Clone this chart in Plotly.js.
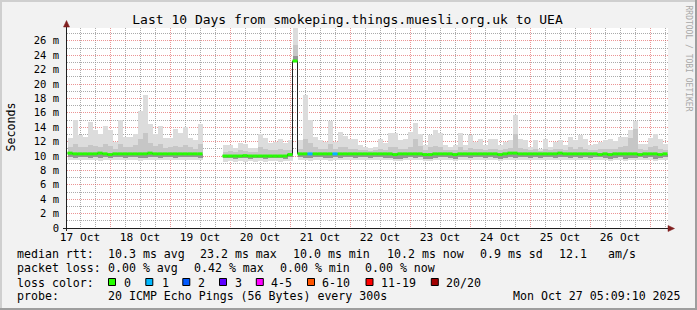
<!DOCTYPE html>
<html><head><meta charset="utf-8">
<script src="https://cdn.plot.ly/plotly-3.0.1.min.js"></script>
<style>html,body{margin:0;padding:0;background:#f2f2f2;overflow:hidden}</style>
</head><body><div id="chart" style="width:697px;height:310px"></div>
<script>
// ---------- data (2-hour bins starting 17 Oct 07:00) ----------
const binStartUTC = Date.UTC(2025, 9, 17, 7, 0, 0);
const binHours = 2;

const smokeMax = [
 12.5,15.0,12.9,12.6,14.7,13.6,13.0,14.1,13.6,12.0,15.0,12.7,12.7,13.1,16.2,18.5,14.5,13.1,14.1,12.5,12.5,13.7,13.2,14.0,
 12.5,12.2,14.5,null,null,null,null,11.5,11.5,11.1,11.8,11.7,11.1,11.1,13.1,12.5,11.8,12.0,12.4,11.8,12.2,29.0,12.2,18.5,
 15.0,12.7,12.2,12.0,14.8,12.0,13.3,12.8,12.4,12.3,11.5,11.3,11.1,11.3,12.3,11.8,13.2,13.2,12.2,12.3,13.3,14.6,13.0,11.5,
 12.9,13.6,13.2,11.5,11.3,11.5,13.2,11.5,12.9,12.0,12.3,11.5,12.3,12.3,11.5,12.0,12.2,15.7,12.3,12.2,11.3,12.2,11.0,12.4,
 11.3,12.0,12.2,11.5,12.7,12.2,12.9,12.3,11.5,11.6,12.0,12.2,12.3,12.1,12.7,12.7,13.6,14.8,11.7,11.7,12.5,13.1,12.3,11.7
];
const smokeHi = [
 11.2,11.6,11.3,11.2,11.5,11.4,11.2,11.6,11.4,11.0,11.6,11.2,11.3,11.5,12.4,13.2,11.8,11.4,11.6,11.1,11.2,11.4,11.3,11.5,
 11.2,11.0,11.6,null,null,null,null,10.6,10.7,10.6,10.8,10.7,10.6,10.6,11.2,11.0,10.8,10.9,11.0,10.8,10.9,25.4,11.0,12.4,
 11.8,11.2,11.0,11.0,11.6,11.0,11.3,11.2,11.0,11.0,10.8,10.8,10.7,10.8,11.0,10.9,11.3,11.3,11.0,11.0,11.3,12.4,11.4,10.8,
 11.2,11.4,11.2,10.8,10.8,10.8,11.2,10.8,11.1,11.0,11.0,10.8,11.0,11.0,10.8,11.0,11.1,13.0,11.1,11.0,10.8,11.0,10.7,11.0,
 10.8,11.0,11.0,10.8,11.2,11.0,11.2,11.0,10.8,10.8,11.0,11.0,11.0,11.0,11.3,11.4,12.5,13.8,11.0,10.9,11.2,11.4,11.0,10.8
];
const smokeLo = [
 9.8,9.7,9.8,9.8,9.7,9.8,9.7,9.8,9.7,9.8,9.8,9.7,9.8,9.8,9.7,9.7,9.8,9.8,9.7,9.8,9.8,9.7,9.8,9.8,
 9.8,9.8,9.7,null,null,null,null,9.7,9.7,9.6,9.7,9.7,9.6,9.7,9.7,9.6,9.7,9.7,9.7,9.6,9.8,23.9,9.8,9.7,
 9.7,9.8,9.8,9.7,9.7,9.8,9.7,9.8,9.8,9.7,9.8,9.8,9.7,9.8,9.8,9.7,9.7,9.6,9.6,9.7,9.8,9.7,9.8,9.6,
 9.6,9.7,9.8,9.8,9.7,9.6,9.8,9.8,9.7,9.8,9.8,9.7,9.8,9.7,9.6,9.7,9.8,9.7,9.8,9.8,9.7,9.8,9.7,9.8,
 9.8,9.7,9.8,9.8,9.7,9.8,9.7,9.8,9.7,9.8,9.8,9.7,9.6,9.7,9.8,9.6,9.7,9.7,9.8,9.7,9.8,9.6,9.7,9.8
];
const smokeMin = [
 9.5,9.4,9.5,9.4,9.5,9.4,9.3,9.5,9.4,9.4,9.5,9.4,9.5,9.4,9.3,9.4,9.5,9.4,9.4,9.5,9.4,9.5,9.4,9.5,
 9.5,9.5,9.4,null,null,null,null,9.2,9.3,9.2,9.3,9.2,9.3,9.2,9.3,9.2,9.3,9.3,9.2,9.3,9.3,22.9,9.5,9.4,
 9.3,9.4,9.5,9.4,9.3,9.5,9.4,9.4,9.5,9.4,9.4,9.5,9.4,9.5,9.4,9.5,9.4,9.3,9.3,9.4,9.5,9.4,9.4,9.3,
 9.3,9.4,9.5,9.4,9.4,9.3,9.5,9.4,9.4,9.5,9.4,9.4,9.5,9.4,9.3,9.4,9.5,9.4,9.5,9.4,9.4,9.5,9.4,9.5,
 9.5,9.4,9.5,9.4,9.4,9.5,9.4,9.5,9.4,9.5,9.4,9.4,9.3,9.4,9.5,9.3,9.4,9.4,9.5,9.4,9.5,9.3,9.4,9.5
];
const medianRtt = [
 10.4,10.3,10.3,10.3,10.3,10.3,10.4,10.3,10.2,10.3,10.3,10.3,10.3,10.3,10.3,10.3,10.4,10.3,10.3,10.3,10.3,10.3,10.3,10.3,
 10.3,10.3,10.3,null,null,null,null,10.0,10.0,10.0,10.0,10.05,10.0,10.0,10.0,10.0,10.0,10.0,10.0,10.0,10.2,23.2,10.3,10.3,
 10.3,10.3,10.3,10.3,10.3,10.3,10.3,10.3,10.3,10.3,10.3,10.3,10.3,10.3,10.3,10.3,10.3,10.2,10.3,10.3,10.3,10.3,10.3,10.2,
 10.2,10.3,10.3,10.3,10.3,10.2,10.3,10.3,10.3,10.3,10.3,10.3,10.3,10.3,10.2,10.3,10.4,10.4,10.3,10.3,10.3,10.3,10.3,10.3,
 10.3,10.3,10.4,10.3,10.3,10.3,10.3,10.3,10.3,10.3,10.2,10.3,10.2,10.3,10.3,10.3,10.3,10.3,10.2,10.3,10.3,10.3,10.2,10.3
];
const lossCount = [
 0,0,0,0,0,0,0,0,0,0,0,0,0,0,0,0,0,0,0,0,0,0,0,0,
 0,0,0,0,0,0,0,0,0,0,0,0,0,0,0,0,0,0,0,0,0,0,0,0,
 1,0,0,0,0,1,0,0,0,0,0,0,0,0,0,0,0,0,0,0,0,0,0,0,
 0,0,0,0,0,0,0,0,0,0,0,0,0,0,0,0,0,0,0,0,0,0,0,0,
 0,0,0,0,0,0,0,0,0,0,0,0,0,0,0,0,0,0,0,0,0,0,0,0
];

const yTickVals = [0,2,4,6,8,10,12,14,16,18,20,22,24,26];
const yTickText = ['0','2 m','4 m','6 m','8 m','10 m','12 m','14 m','16 m','18 m','20 m','22 m','24 m','26 m'];

const lossLabels = ['0','1','2','3','4-5','6-10','11-19','20/20'];
const lossColors = ['#26ff00','#00b8ff','#0059ff','#5e00ff','#ff00ff','#ff5500','#ff0000','#a10000'];

const titleText = 'Last 10 Days from smokeping.things.muesli.org.uk to UEA';
const rttLabel = 'median rtt:';
const rttStats = ['10.3 ms avg','23.2 ms max','10.0 ms min','10.2 ms now','0.9 ms sd','12.1','am/s'];
const lossLabel = 'packet loss:';
const lossStats = ['0.00 % avg','0.42 % max','0.00 % min','0.00 % now'];
const colorLabel = 'loss color:';
const probeLabel = 'probe:';
const probeText = '20 ICMP Echo Pings (56 Bytes) every 300s';
const stampText = 'Mon Oct 27 05:09:10 2025';
const watermark = 'RRDTOOL / TOBI OETIKER';
const yTitle = 'Seconds';

// ---------- layout geometry ----------
const W = 697, H = 310, L = 67, R = 668, T = 28, B = 228;
const yMax = 27.78;
const xRange = ['2025-10-17 06:48', '2025-10-27 07:12'];
const xp = p => (p - L) / (R - L);
const yp = p => (B - p) / (B - T);
const MONO = 'DejaVu Sans Mono, monospace';

const binMs = binHours * 3600000;
const xCenter = medianRtt.map((_, i) => binStartUTC + (i + 0.5) * binMs);
const xStart = medianRtt.map((_, i) => binStartUTC + i * binMs);
const band = (lo, hi) => lo.map((v, i) => (v == null || hi[i] == null) ? null : hi[i] - v);

const barBase = {type: 'bar', x: xCenter, width: xCenter.map(() => binMs), hoverinfo: 'skip', showlegend: false};
const traces = [
  Object.assign({}, barBase, {base: smokeMin, y: band(smokeMin, smokeMax), marker: {color: '#dcdcdc', line: {width: 0}}}),
  Object.assign({}, barBase, {base: smokeLo, y: band(smokeLo, smokeHi), marker: {color: '#c6c6c6', line: {width: 0}}}),
  Object.assign({}, barBase, {base: smokeLo, y: band(smokeLo, medianRtt), marker: {color: '#959595', line: {width: 0}}}),
  {type: 'scatter', mode: 'lines', x: xStart, y: medianRtt, line: {shape: 'hv', color: '#202020', width: 1}, connectgaps: false, hoverinfo: 'skip', showlegend: false}
];
// loss-coloured median: one horizontal segment per bin, no vertical joins
lossColors.forEach((col, level) => {
  const gx = [], gy = [];
  medianRtt.forEach((v, i) => {
    if (v == null || lossCount[i] !== level) return;
    gx.push(xStart[i], xStart[i] + binMs, null);
    gy.push(v, v, null);
  });
  if (gx.length) traces.push({type: 'scatter', mode: 'lines', x: gx, y: gy, line: {color: col, width: 3}, connectgaps: false, hoverinfo: 'skip', showlegend: false});
});

const ann = [];
function txt(text, px, py, extra) {
  ann.push(Object.assign({text: text, xref: 'paper', yref: 'paper', x: xp(px), y: yp(py), xanchor: 'left', yanchor: 'middle',
    showarrow: false, borderpad: 0, font: {family: MONO, size: 11.6, color: '#000'}}, extra || {}));
}
const row = [254, 268.3, 282.7, 296.2];
txt(rttLabel, 15.5, row[0]);
[106.5, 199.3, 292.3, 385.7, 479.2, 558.3, 606.5].forEach((px, i) => txt(rttStats[i], px, row[0]));
txt(lossLabel, 15.5, row[1]);
[106.5, 192.5, 278.5, 364.2].forEach((px, i) => txt(lossStats[i], px, row[1]));
txt(colorLabel, 15.5, row[2]);
const boxX = [108, 145.3, 182.3, 219, 255.8, 307, 365.5, 430.8];
const labX = [123.2, 160.7, 196.5, 234.2, 269.8, 320.8, 379.7, 444.8];
lossLabels.forEach((lab, i) => txt(lab, labX[i], row[2]));
txt(probeLabel, 15.5, row[3]);
txt(probeText, 106.5, row[3]);
txt(stampText, 511.8, row[3]);
ann.push({text: yTitle, xref: 'paper', yref: 'paper', x: xp(10.5), y: yp(127), xanchor: 'center', yanchor: 'middle',
  textangle: -90, showarrow: false, borderpad: 0, font: {family: MONO, size: 11.6, color: '#000'}});
ann.push({text: watermark, xref: 'paper', yref: 'paper', x: xp(688), y: yp(58.5), xanchor: 'center', yanchor: 'middle',
  textangle: 90, showarrow: false, borderpad: 0, font: {family: MONO, size: 8, color: '#a8a8a8'}});

const shapes = [];
function rect(x0, y0, x1, y1, fill, line) {
  shapes.push({type: 'rect', xref: 'paper', yref: 'paper', x0: xp(x0), x1: xp(x1), y0: yp(y0), y1: yp(y1),
    fillcolor: fill, line: line || {width: 0}, layer: 'above'});
}
// frame shading
rect(0, 0, W, 2, '#cfcfcf'); rect(0, 0, 2, H, '#cfcfcf');
rect(0, H - 2, W, H, '#9e9e9e'); rect(W - 2, 0, W, H, '#9e9e9e');
// legend colour boxes
boxX.forEach((bx, i) => rect(bx + 0.5, 278.5, bx + 7.5, 285.5, lossColors[i], {color: '#000', width: 1}));
// axes lines
shapes.push({type: 'line', xref: 'paper', yref: 'paper', x0: xp(63), x1: xp(669), y0: yp(228.5), y1: yp(228.5), line: {color: '#1f1f1f', width: 1}, layer: 'above'});
shapes.push({type: 'line', xref: 'paper', yref: 'paper', x0: xp(66.5), x1: xp(66.5), y0: yp(231), y1: yp(26), line: {color: '#1f1f1f', width: 1}, layer: 'above'});
// arrows
shapes.push({type: 'path', xref: 'paper', yref: 'paper', path: `M${xp(668)},${yp(225.5)} L${xp(674.5)},${yp(228.5)} L${xp(668)},${yp(231.5)} Z`, fillcolor: '#801f1f', line: {color: '#801f1f', width: 0.5}, layer: 'above'});
shapes.push({type: 'path', xref: 'paper', yref: 'paper', path: `M${xp(63.5)},${yp(27)} L${xp(66.5)},${yp(20.5)} L${xp(69.5)},${yp(27)} Z`, fillcolor: '#801f1f', line: {color: '#801f1f', width: 0.5}, layer: 'above'});

const gridMajor = 'rgba(222,79,79,0.6)';
const gridMinor = 'rgba(143,143,143,0.75)';
const layout = {
  width: W, height: H, margin: {l: L, r: W - R, t: T, b: H - B, pad: 0},
  paper_bgcolor: '#f2f2f2', plot_bgcolor: '#ffffff',
  barmode: 'overlay', bargap: 0, hovermode: false, showlegend: false,
  title: {text: titleText, xref: 'container', yref: 'container', x: 347.5 / W, xanchor: 'center', y: 1 - 19 / H, yanchor: 'middle',
    font: {family: MONO, size: 13, color: '#000'}},
  xaxis: {type: 'date', range: xRange, dtick: 86400000, tick0: '2025-10-17', ticklabelmode: 'period', tickformat: '%d %b',
    showgrid: true, gridcolor: gridMajor, griddash: '1px,1px', gridwidth: 1, zeroline: false, showline: false,
    ticks: '', ticklabelstandoff: 1, tickfont: {family: MONO, size: 11.2, color: '#000'},
    minor: {dtick: 6 * 3600000, showgrid: true, gridcolor: gridMinor, griddash: '1px,1px', gridwidth: 1}},
  yaxis: {range: [0, yMax], tickvals: yTickVals, ticktext: yTickText, showgrid: true, gridcolor: gridMajor, griddash: '1px,1px', gridwidth: 1,
    zeroline: false, showline: false, ticks: '', ticklabelstandoff: 7, tickfont: {family: MONO, size: 10.5, color: '#000'},
    minor: {tickvals: [1,3,5,7,9,11,13,15,17,19,21,23,25,27], showgrid: true, gridcolor: gridMinor, griddash: '1px,1px', gridwidth: 1}},
  annotations: ann, shapes: shapes
};
Plotly.newPlot('chart', traces, layout, {staticPlot: true, displayModeBar: false});
</script></body></html>
